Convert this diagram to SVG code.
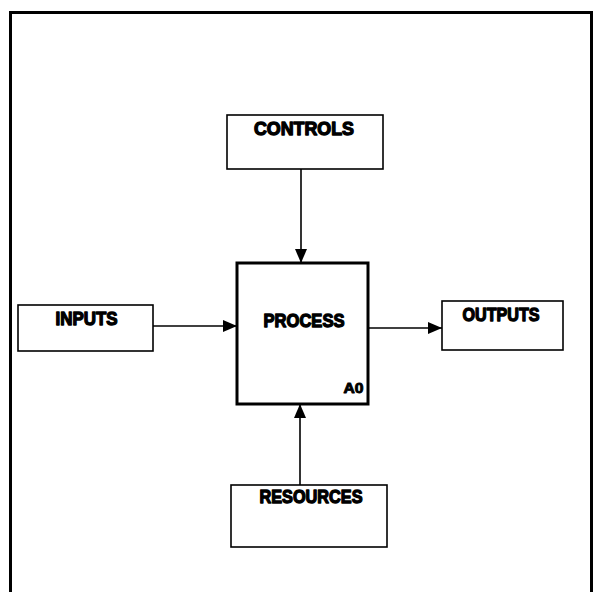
<svg xmlns="http://www.w3.org/2000/svg" width="594" height="592" viewBox="0 0 594 592">
<style>
.box{fill:#fff;stroke:#000;stroke-width:1.6}
.main{fill:#fff;stroke:#000;stroke-width:3}
.lbl{font-family:"Liberation Sans",Arial,sans-serif;font-weight:bold;font-size:18px;fill:#000;stroke:#000;stroke-width:1.3;stroke-linejoin:round;text-anchor:middle}
.small{font-size:14px;stroke-width:0.9}
.conn{stroke:#000;stroke-width:1.6;fill:none}
</style>
<defs>
<marker id="ah" viewBox="0 0 14 12" refX="14" refY="6" markerWidth="14" markerHeight="12" markerUnits="userSpaceOnUse" orient="auto">
<path d="M0,0 L14,6 L0,12 Z" fill="#000"/>
</marker>
</defs>
<rect width="594" height="592" fill="#fff"/>
<path d="M10.5,600 L10.5,12.5 L591.5,12.5 L591.5,600" fill="none" stroke="#000" stroke-width="3"/>
<g id="connectors">
<line class="conn" x1="301" y1="169" x2="301" y2="263" marker-end="url(#ah)"/>
<line class="conn" x1="153" y1="326" x2="237" y2="326" marker-end="url(#ah)"/>
<line class="conn" x1="368" y1="328" x2="442" y2="328" marker-end="url(#ah)"/>
<line class="conn" x1="300" y1="485" x2="300" y2="404" marker-end="url(#ah)"/>
</g>
<g id="controls">
<rect class="box" x="227" y="115" width="156" height="54"/>
<text class="lbl" x="304" y="135" textLength="100" lengthAdjust="spacingAndGlyphs">CONTROLS</text>
</g>
<g id="inputs">
<rect class="box" x="18" y="305" width="135" height="46"/>
<text class="lbl" x="86.5" y="325" textLength="62" lengthAdjust="spacingAndGlyphs">INPUTS</text>
</g>
<g id="process">
<rect class="main" x="237" y="263" width="131" height="141"/>
<text class="lbl" x="304" y="327" textLength="81" lengthAdjust="spacingAndGlyphs">PROCESS</text>
<text class="lbl small" x="353.5" y="393" textLength="20" lengthAdjust="spacingAndGlyphs">A0</text>
</g>
<g id="outputs">
<rect class="box" x="442" y="301" width="121" height="49"/>
<text class="lbl" x="501" y="321" textLength="77" lengthAdjust="spacingAndGlyphs">OUTPUTS</text>
</g>
<g id="resources">
<rect class="box" x="231" y="485" width="156" height="62"/>
<text class="lbl" x="311" y="503" textLength="103" lengthAdjust="spacingAndGlyphs">RESOURCES</text>
</g>
</svg>
